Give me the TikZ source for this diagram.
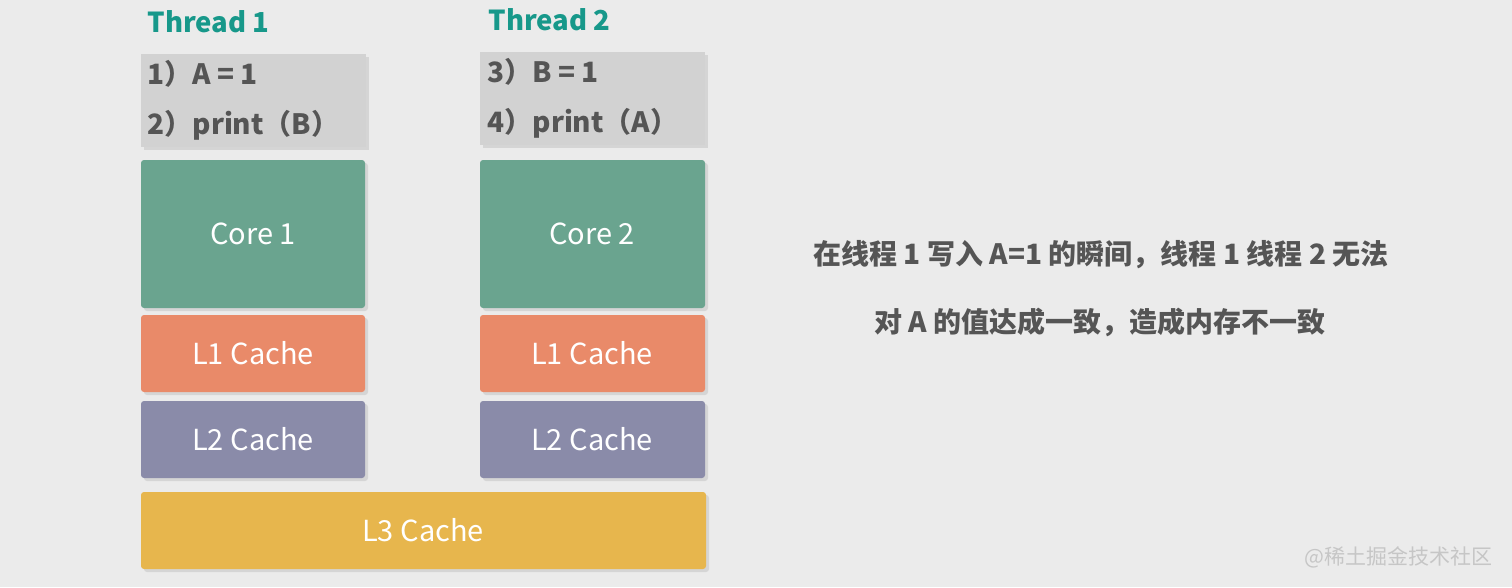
\documentclass[tikz,border=0pt]{standalone}
\usepackage{fontspec}
\setmainfont{Noto Sans CJK SC}
\usetikzlibrary{shadows}
\definecolor{bg}{HTML}{EBEBEB}
\definecolor{teal}{HTML}{17988A}
\definecolor{codeg}{HTML}{D2D2D2}
\definecolor{coreg}{HTML}{6AA48F}
\definecolor{lone}{HTML}{E98A69}
\definecolor{ltwo}{HTML}{8A8BA9}
\definecolor{lthree}{HTML}{E7B64D}
\definecolor{txt}{HTML}{555555}
\begin{document}
\begin{tikzpicture}[x=1pt,y=-1pt,
  shd/.style={drop shadow={shadow xshift=3pt,shadow yshift=-3pt,opacity=0.2}},
  blk/.style={rounded corners=3pt, shd},
  lab/.style={text=white, font=\fontsize{29}{33}\selectfont},
  codebox/.style={fill=codeg, shd},
  codetxt/.style={anchor=west, text=txt, font=\bfseries\fontsize{28}{32}\selectfont},
  thr/.style={anchor=west, text=teal, font=\bfseries\fontsize{27.5}{31}\selectfont},
  rt/.style={text=txt, font=\bfseries\fontsize{28}{32}\selectfont}]
\useasboundingbox (0,0) rectangle (1512,587);
\fill[bg] (0,0) rectangle (1512,587);
\node[thr] (t1) at (144,22) {Thread 1};
\node[thr] (t2) at (485,20) {Thread 2};
\path[codebox] (141,54) rectangle (366,147);
\path[codebox] (480,52) rectangle (705,145);
\node[codetxt] (c1) at (144,74) {1）A = 1};
\node[codetxt] (c2) at (144,125) {2）print（B）};
\node[codetxt] (c3) at (484,72) {3）B = 1};
\node[codetxt] (c4) at (484,123) {4）print（A）};
\path[blk, fill=coreg] (141,160) rectangle (365,308);
\node[lab] (k1) at (253,234) {Core 1};
\path[blk, fill=coreg] (480,160) rectangle (705,308);
\node[lab] (k2) at (592,234) {Core 2};
\path[blk, fill=lone] (141,315) rectangle (365,392);
\node[lab] (a1) at (253,353) {L1 Cache};
\path[blk, fill=lone] (480,315) rectangle (705,392);
\node[lab] (a2) at (592,353) {L1 Cache};
\path[blk, fill=ltwo] (141,401) rectangle (365,478);
\node[lab] (b1) at (253,439) {L2 Cache};
\path[blk, fill=ltwo] (480,401) rectangle (705,478);
\node[lab] (b2) at (592,439) {L2 Cache};
\path[blk, fill=lthree] (141,492) rectangle (706,569);
\node[lab] (l3) at (423,530) {L3 Cache};
\node[rt] (r1) at (1101,255) {在线程 1 写入 A=1 的瞬间，线程 1 线程 2 无法};
\node[rt] (r2) at (1100,322) {对 A 的值达成一致，造成内存不一致};
\node[text=white!55!gray, font=\fontsize{21}{24}\selectfont, anchor=east] (w) at (1496,557) {@稀土掘金技术社区};
\end{tikzpicture}
\end{document}
